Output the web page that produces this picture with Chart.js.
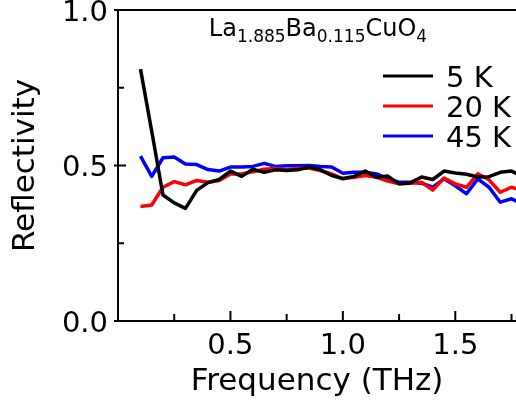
<!DOCTYPE html>
<html><head><meta charset="utf-8">
<script src="https://cdn.jsdelivr.net/npm/chart.js@4"></script>
<style>html,body{margin:0;padding:0;background:#fff;overflow:hidden}#wrap{width:516px;height:402px}</style>
</head><body><div id="wrap"><canvas id="c" width="516" height="402"></canvas></div>
<script>
const frequency = [0.10,0.15,0.20,0.25,0.30,0.35,0.40,0.45,0.50,0.55,0.60,0.65,0.70,0.75,0.80,0.85,0.90,0.95,1.00,1.05,1.10,1.15,1.20,1.25,1.30,1.35,1.40,1.45,1.50,1.55,1.60,1.65,1.70,1.75,1.80];
const r5K  = [0.81,0.61,0.405,0.38,0.362,0.42,0.445,0.455,0.482,0.465,0.488,0.478,0.486,0.484,0.486,0.495,0.486,0.468,0.458,0.465,0.482,0.462,0.466,0.441,0.444,0.463,0.455,0.482,0.476,0.472,0.463,0.464,0.478,0.482,0.465];
const r20K = [0.368,0.373,0.43,0.448,0.438,0.452,0.446,0.452,0.473,0.473,0.48,0.488,0.49,0.486,0.49,0.492,0.484,0.473,0.457,0.462,0.468,0.462,0.45,0.441,0.443,0.446,0.421,0.46,0.441,0.43,0.473,0.454,0.414,0.43,0.42];
const r45K = [0.53,0.465,0.525,0.527,0.505,0.503,0.487,0.482,0.495,0.495,0.497,0.507,0.497,0.499,0.499,0.50,0.497,0.495,0.475,0.478,0.478,0.473,0.457,0.446,0.446,0.443,0.43,0.457,0.435,0.409,0.457,0.43,0.382,0.393,0.375];
const seriesLabels = ['5 K','20 K','45 K'];
const seriesColors = ['#000000','#ff0000','#0000ff'];
const xMajorTicks = [0.5,1.0,1.5];
const xMinorTicks = [0.25,0.75,1.25,1.75];
const yMajorTicks = [0.0,0.5,1.0];
const yMinorTicks = [0.25,0.75];
const titleParts = [['La',0],['1.885',1],['Ba',0],['0.115',1],['CuO',0],['4',1]];

const FONT = '"DejaVu Sans", Verdana, sans-serif';
const mk = (arr) => frequency.map((f,i)=>({x:f,y:arr[i]}));
const allSeries = [r5K, r20K, r45K];

const decor = {
  id:'decor',
  afterDraw(chart){
    const ctx = chart.ctx;
    const {left,top,right,bottom} = chart.chartArea;
    const xs = chart.scales.x, ys = chart.scales.y;
    ctx.save();
    ctx.strokeStyle = '#000'; ctx.lineWidth = 2; ctx.lineCap='butt';
    const ln = (a,b,c,d)=>{ctx.beginPath();ctx.moveTo(a,b);ctx.lineTo(c,d);ctx.stroke();};
    ln(left-1, top, right, top);
    xMajorTicks.forEach(v=>{const p=xs.getPixelForValue(v); ln(p,bottom,p,bottom-10);});
    xMinorTicks.forEach(v=>{const p=xs.getPixelForValue(v); ln(p,bottom,p,bottom-7);});
    yMajorTicks.forEach(v=>{const p=ys.getPixelForValue(v); ln(left-4,p,left+8,p);});
    yMinorTicks.forEach(v=>{const p=ys.getPixelForValue(v); ln(left,p,left+6,p);});
    // title with subscripts
    ctx.fillStyle = '#000';
    ctx.textBaseline = 'alphabetic';
    const mainF = '24px '+FONT, subF = '17px '+FONT;
    let w = 0;
    titleParts.forEach(([t,s])=>{ctx.font = s?subF:mainF; w += ctx.measureText(t).width;});
    let x = 318 - w/2;
    titleParts.forEach(([t,s])=>{ctx.font = s?subF:mainF; ctx.fillText(t, x, s?42:36); x += ctx.measureText(t).width;});
    // legend
    ctx.font = '29px '+FONT;
    seriesLabels.forEach((lab,i)=>{
      const y = 76 + 30*i;
      ctx.strokeStyle = seriesColors[i]; ctx.lineWidth = 3;
      ln(383, y, 433, y);
      ctx.fillStyle = '#000';
      ctx.fillText(lab, 446, y+10.5);
    });
    ctx.restore();
  }
};

new Chart(document.getElementById('c'), {
  type:'line',
  data:{
    datasets: seriesLabels.map((lab,i)=>({
      label: lab, data: mk(allSeries[i]), borderColor: seriesColors[i],
      borderWidth: 3.5, pointRadius: 0, tension: 0, fill:false, borderJoinStyle:'round'
    }))
  },
  options:{
    responsive:false, animation:false, devicePixelRatio:1,
    layout:{padding:{top:10,right:0,left:0,bottom:0}},
    plugins:{legend:{display:false}, tooltip:{enabled:false}},
    scales:{
      x:{type:'linear', min:0, max:1.77,
        grid:{display:false, drawTicks:false},
        border:{display:true, color:'#000', width:2},
        afterBuildTicks:(s)=>{s.ticks = xMajorTicks.map(v=>({value:v}));},
        ticks:{color:'#000', font:{family:FONT,size:29}, padding:8, maxRotation:0, autoSkip:false,
          callback:(v)=>Number(v).toFixed(1)},
        title:{display:true, text:'Frequency (THz)', color:'#000', font:{family:FONT,size:31}, padding:{top:0,bottom:1}},
        afterFit:(s)=>{s.height = 81; s.paddingLeft=0; s.paddingRight=0;}
      },
      y:{type:'linear', min:0, max:1,
        grid:{display:false, drawTicks:false},
        border:{display:true, color:'#000', width:2},
        afterBuildTicks:(s)=>{s.ticks = yMajorTicks.map(v=>({value:v}));},
        ticks:{color:'#000', font:{family:FONT,size:29}, padding:10, labelOffset:3,
          callback:(v)=>Number(v).toFixed(1)},
        title:{display:true, text:'Reflectivity', color:'#000', font:{family:FONT,size:31}, padding:{top:7,bottom:0}},
        afterFit:(s)=>{s.width = 118; s.paddingTop=0; s.paddingBottom=0;}
      }
    }
  },
  plugins:[decor]
});
</script>
</body></html>
